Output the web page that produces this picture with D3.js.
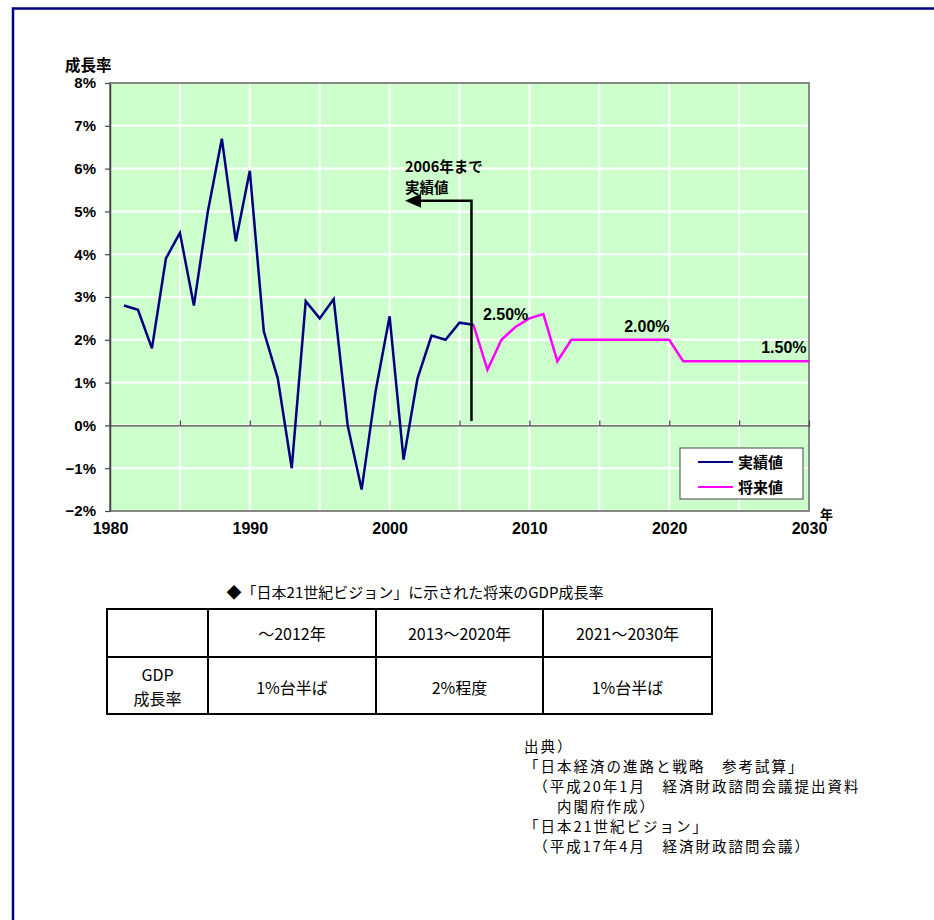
<!DOCTYPE html>
<html>
<head>
<meta charset="utf-8">
<script src="https://cdn.jsdelivr.net/npm/d3@7/dist/d3.min.js"></script>
<style>
  html, body { margin: 0; padding: 0; background: #fff; }
  svg { display: block; }
</style>
</head>
<body>
<script>
// 実績値 (1981–2006) and 将来値 (2006–2030), real GDP growth, %
const actualYears = d3.range(1981, 2007);
const actualValues = [2.8, 2.7, 1.8, 3.9, 4.5, 2.8, 5.0, 6.7, 4.3, 5.95,
                      2.2, 1.1, -1.0, 2.9, 2.5, 2.95, 0.0, -1.5, 0.8, 2.55,
                      -0.8, 1.1, 2.1, 2.0, 2.4, 2.35];
const futureYears = d3.range(2006, 2031);
const futureValues = [2.35, 1.3, 2.0, 2.3, 2.5, 2.6, 1.5,
                      2.0, 2.0, 2.0, 2.0, 2.0, 2.0, 2.0, 2.0,
                      1.5, 1.5, 1.5, 1.5, 1.5, 1.5, 1.5, 1.5, 1.5, 1.5];

const xTicks = [1980, 1990, 2000, 2010, 2020, 2030];
const xGrid = d3.range(1985, 2030, 5);
const yTicks = d3.range(-2, 9, 1);
const yTickLabels = ["−2%", "−1%", "0%", "1%", "2%", "3%", "4%", "5%", "6%", "7%", "8%"];

const seriesNames = ["実績値", "将来値"];
const seriesColors = ["#000080", "#ff00ff"];

// value call-outs on the projection line
const calloutText = ["2.50%", "2.00%", "1.50%"];
const calloutYear = [2008.3, 2018.4, 2028.2];
const calloutValue = [2.5, 2.0, 1.5];

const noteLines = ["2006年まで", "実績値"];

const tableTitle = "◆「日本21世紀ビジョン」に示された将来のGDP成長率";
const tableHeader = ["", "〜2012年", "2013〜2020年", "2021〜2030年"];
const tableRowHead = ["GDP", "成長率"];
const tableRow = ["1%台半ば", "2%程度", "1%台半ば"];

const sourceLines = [
  "出典）",
  "「日本経済の進路と戦略　参考試算」",
  "　（平成20年1月　経済財政諮問会議提出資料",
  "　　内閣府作成）",
  "「日本21世紀ビジョン」",
  "　（平成17年4月　経済財政諮問会議）"
];

const W = 934, H = 920;
const NUM = "'Liberation Sans', Arial, sans-serif";
const JP = "'Noto Sans CJK JP', 'Noto Sans', sans-serif";

const svg = d3.select("body").append("svg")
  .attr("width", W).attr("height", H);

svg.append("rect").attr("width", W).attr("height", H).attr("fill", "#fff");

// outer frame (top and left edges visible)
svg.append("path")
  .attr("d", "M13,940 L13,8.5 L940,8.5")
  .attr("fill", "none").attr("stroke", "#000080").attr("stroke-width", 2.5);

const plot = { left: 110, right: 809, top: 83, bottom: 511 };
const x = d3.scaleLinear().domain([1980, 2030]).range([plot.left, plot.right]);
const y = d3.scaleLinear().domain([-2, 8]).range([plot.bottom, plot.top]);

// plot background
svg.append("rect")
  .attr("x", plot.left).attr("y", plot.top)
  .attr("width", plot.right - plot.left).attr("height", plot.bottom - plot.top)
  .attr("fill", "#ccffcc");

// gridlines
svg.append("g").selectAll("line").data(xGrid).join("line")
  .attr("x1", d => x(d)).attr("x2", d => x(d))
  .attr("y1", plot.top).attr("y2", plot.bottom)
  .attr("stroke", "#fff").attr("stroke-width", 2);
svg.append("g").selectAll("line").data(yTicks.filter(v => v > -2 && v < 8)).join("line")
  .attr("x1", plot.left).attr("x2", plot.right)
  .attr("y1", d => y(d)).attr("y2", d => y(d))
  .attr("stroke", "#fff").attr("stroke-width", 2);

// plot border
svg.append("rect")
  .attr("x", plot.left).attr("y", plot.top)
  .attr("width", plot.right - plot.left).attr("height", plot.bottom - plot.top)
  .attr("fill", "none").attr("stroke", "#888").attr("stroke-width", 2);

// zero line with inward ticks
const xAxis = d3.axisTop(x).tickValues(xGrid).tickSize(5).tickFormat("");
const gx = svg.append("g").attr("transform", `translate(0,${y(0)})`).call(xAxis);
gx.select(".domain").attr("stroke", "#444").attr("stroke-width", 1.2);
gx.selectAll(".tick line").attr("stroke", "#444").attr("stroke-width", 1.2);

// y axis
const yAxis = d3.axisLeft(y).tickValues(yTicks).tickSize(5)
  .tickFormat((d, i) => yTickLabels[i]).tickPadding(9).tickSizeOuter(0);
const gy = svg.append("g").attr("transform", `translate(${plot.left},0)`).call(yAxis);
gy.select(".domain").attr("stroke", "#444").attr("stroke-width", 1.5);
gy.selectAll(".tick line").attr("stroke", "#444").attr("stroke-width", 1.2);
gy.selectAll(".tick text")
  .attr("font-family", NUM).attr("font-size", 15).attr("font-weight", "bold")
  .attr("fill", "#000");

// x tick labels under the plot
const gb = svg.append("g").attr("transform", `translate(0,${plot.bottom})`)
  .call(d3.axisBottom(x).tickValues(xTicks).tickSize(0).tickPadding(12).tickFormat(d3.format("d")));
gb.select(".domain").remove();
gb.selectAll(".tick text")
  .attr("font-family", NUM).attr("font-size", 16).attr("font-weight", "bold")
  .attr("fill", "#000");

// axis titles
svg.append("text").attr("x", 65).attr("y", 71)
  .attr("font-family", JP).attr("font-size", 15.5).attr("font-weight", "bold")
  .text("成長率");
svg.append("text").attr("x", 820).attr("y", 519)
  .attr("font-family", JP).attr("font-size", 13).attr("font-weight", "bold")
  .text("年");

// series lines
const line = d3.line().x(d => x(d[0])).y(d => y(d[1]));
svg.append("path")
  .datum(futureYears.map((yr, i) => [yr, futureValues[i]]))
  .attr("d", line).attr("fill", "none")
  .attr("stroke", seriesColors[1]).attr("stroke-width", 2.5)
  .attr("stroke-linejoin", "miter");
svg.append("path")
  .datum(actualYears.map((yr, i) => [yr, actualValues[i]]))
  .attr("d", line).attr("fill", "none")
  .attr("stroke", seriesColors[0]).attr("stroke-width", 2.5)
  .attr("stroke-linejoin", "miter");

// "2006年まで実績値" marker with arrow
const splitX = x(2006) - 2;
const arrowY = y(5.25);
svg.append("path")
  .attr("d", `M${splitX},${y(0.1)} L${splitX},${arrowY} L${x(2002.2)},${arrowY}`)
  .attr("fill", "none").attr("stroke", "#000").attr("stroke-width", 2.5);
svg.append("path")
  .attr("d", `M${x(2001.1)},${arrowY} L${x(2002.25)},${arrowY - 7} L${x(2002.25)},${arrowY + 7} Z`)
  .attr("fill", "#000");
svg.append("g").selectAll("text").data(noteLines).join("text")
  .attr("x", 405).attr("y", (d, i) => 171.5 + i * 21.5)
  .attr("font-family", JP).attr("font-size", 14.5).attr("font-weight", "bold")
  .text(d => d);

// value call-outs
const calloutDy = [2, -8, -8];
svg.append("g").selectAll("text").data(calloutText).join("text")
  .attr("x", (d, i) => x(calloutYear[i]))
  .attr("y", (d, i) => y(calloutValue[i]) + calloutDy[i])
  .attr("text-anchor", "middle")
  .attr("font-family", NUM).attr("font-size", 16).attr("font-weight", "bold")
  .text(d => d);

// legend
const lg = svg.append("g").attr("transform", "translate(680,448)");
lg.append("rect").attr("width", 123).attr("height", 51)
  .attr("fill", "#fff").attr("stroke", "#444").attr("stroke-width", 1);
seriesNames.forEach((name, i) => {
  const ly = 14 + i * 25;
  lg.append("line").attr("x1", 18).attr("x2", 53).attr("y1", ly).attr("y2", ly)
    .attr("stroke", seriesColors[i]).attr("stroke-width", 2);
  lg.append("text").attr("x", 58).attr("y", ly + 5.5)
    .attr("font-family", JP).attr("font-size", 15).attr("font-weight", "bold")
    .text(name);
});

// projection table
svg.append("text").attr("x", 415).attr("y", 598)
  .attr("text-anchor", "middle")
  .attr("font-family", JP).attr("font-size", 15)
  .text(tableTitle);

const colX = [107, 208, 376, 543, 712];
const rowY = [609, 657, 714];
const tg = svg.append("g");
tg.append("rect").attr("x", colX[0]).attr("y", rowY[0])
  .attr("width", colX[4] - colX[0]).attr("height", rowY[2] - rowY[0])
  .attr("fill", "none").attr("stroke", "#000").attr("stroke-width", 2);
tg.append("line").attr("x1", colX[0]).attr("x2", colX[4])
  .attr("y1", rowY[1]).attr("y2", rowY[1]).attr("stroke", "#000").attr("stroke-width", 2);
tg.selectAll("line.col").data(colX.slice(1, 4)).join("line").attr("class", "col")
  .attr("x1", d => d).attr("x2", d => d).attr("y1", rowY[0]).attr("y2", rowY[2])
  .attr("stroke", "#000").attr("stroke-width", 2);
tg.selectAll("text.h").data(tableHeader).join("text").attr("class", "h")
  .attr("x", (d, i) => (colX[i] + colX[i + 1]) / 2).attr("y", 640)
  .attr("text-anchor", "middle")
  .attr("font-family", JP).attr("font-size", 16)
  .text(d => d);
tg.selectAll("text.rh").data(tableRowHead).join("text").attr("class", "rh")
  .attr("x", (colX[0] + colX[1]) / 2).attr("y", (d, i) => 681 + i * 24)
  .attr("text-anchor", "middle")
  .attr("font-family", JP).attr("font-size", 16)
  .text(d => d);
tg.selectAll("text.c").data(tableRow).join("text").attr("class", "c")
  .attr("x", (d, i) => (colX[i + 1] + colX[i + 2]) / 2).attr("y", 694)
  .attr("text-anchor", "middle")
  .attr("font-family", JP).attr("font-size", 16)
  .text(d => d);

// source notes
svg.append("g").selectAll("text").data(sourceLines).join("text")
  .attr("x", 524).attr("y", (d, i) => 752 + i * 20)
  .attr("font-family", JP).attr("font-size", 14.5)
  .attr("letter-spacing", 2)
  .attr("xml:space", "preserve").style("white-space", "pre")
  .text(d => d);
</script>
</body>
</html>
